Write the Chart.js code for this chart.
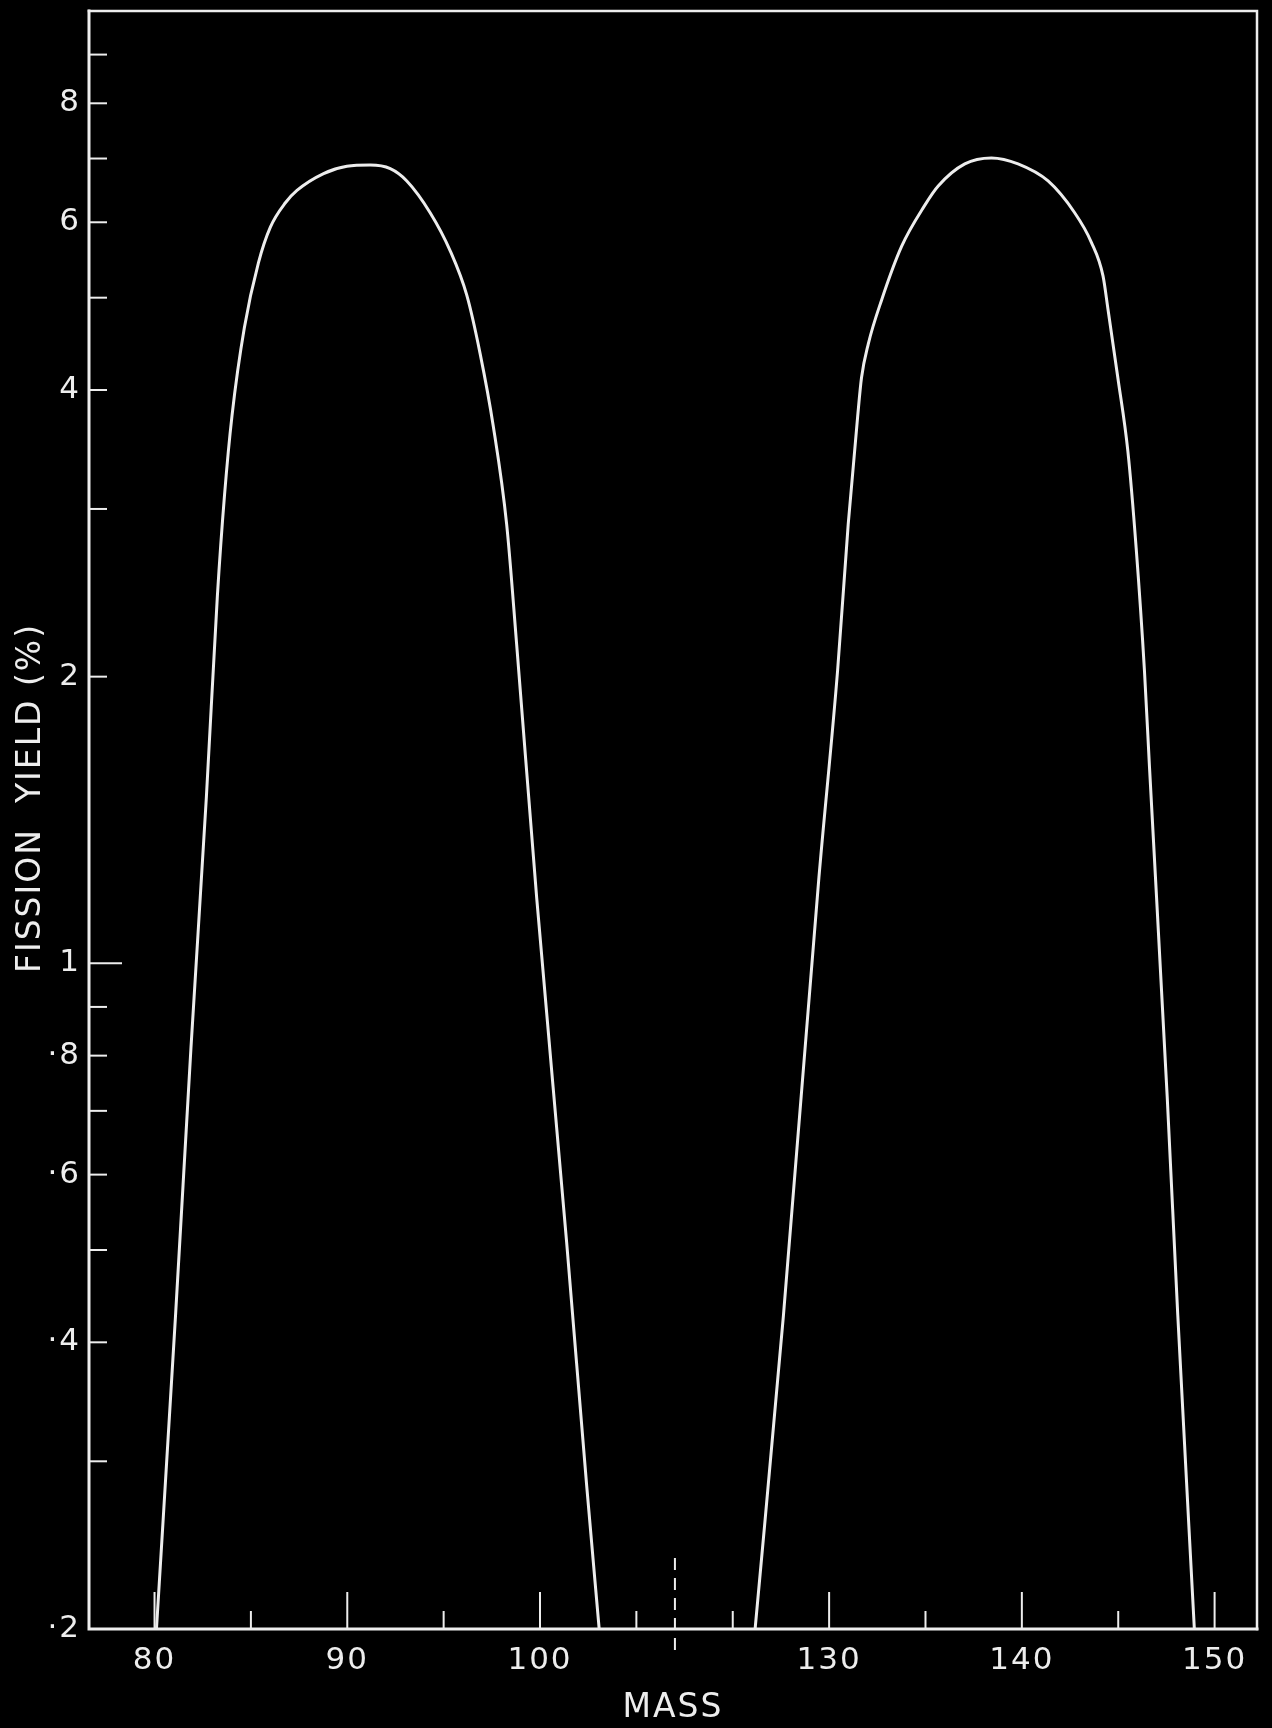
<!DOCTYPE html>
<html>
<head>
<meta charset="utf-8">
<title>Fission yield vs mass</title>
<script src="https://cdn.jsdelivr.net/npm/chart.js@4/dist/chart.umd.min.js"></script>
<style>
  html, body { margin: 0; padding: 0; background: #000; }
  canvas { display: block; }
</style>
</head>
<body>
<canvas id="chart" width="1272" height="1728"></canvas>
<script>
// Light fragment peak: mass number and fission yield (%)
const lightMass  = [80.1, 81.09, 81.89, 82.69, 83.26, 83.63, 84.02, 84.66, 85.39, 86.01, 86.79, 87.39, 88.77, 89.98, 91.19, 92.23, 93.09, 94.30, 95.34, 96.20, 96.89, 97.58, 98.27, 98.79, 99.83, 101.38, 102.42, 103.07];
const lightYield = [0.20, 0.427, 0.815, 1.495, 2.43, 3.10, 3.76, 4.65, 5.44, 5.93, 6.29, 6.48, 6.75, 6.87, 6.89, 6.83, 6.63, 6.14, 5.60, 5.03, 4.37, 3.66, 2.89, 2.16, 1.17, 0.51, 0.283, 0.20];

// Heavy fragment peak
const heavyMass  = [126.16, 127.63, 129.47, 130.44, 130.99, 131.48, 131.68, 132.03, 132.72, 133.76, 134.96, 135.66, 137.04, 138.42, 139.80, 141.36, 142.74, 143.60, 144.21, 144.47, 144.98, 145.50, 145.93, 146.36, 146.62, 147.54, 148.09, 148.95];
const heavyYield = [0.20, 0.427, 1.23, 2.03, 2.89, 3.75, 4.12, 4.47, 4.97, 5.66, 6.25, 6.55, 6.91, 7.01, 6.91, 6.63, 6.14, 5.72, 5.27, 4.86, 4.12, 3.45, 2.73, 2.03, 1.61, 0.725, 0.427, 0.20];

// Mass axis ticks (the range between the two peaks is cut out)
const xTickValues = [80, 85, 90, 95, 100, 105, 125, 130, 135, 140, 145, 150];
const xTickLabels = ['80', '', '90', '', '100', '', '', '130', '', '140', '', '150'];
const xLongTicks  = [80, 90, 100, 130, 140, 150];

// Yield axis ticks (log scale, British decimal point)
const yTickValues = [0.2, 0.3, 0.4, 0.5, 0.6, 0.7, 0.8, 0.9, 1, 2, 3, 4, 5, 6, 7, 8, 9];
const yTickLabels = ['·2', '', '·4', '', '·6', '', '·8', '', '1', '2', '', '4', '', '6', '', '8', ''];
const yLongTicks  = [1];

const xTitle = 'MASS';
const yTitle = 'FISSION  YIELD (%)';

const gapStart = 107;   // axis break: masses between gapStart and gapEnd are omitted
const gapEnd   = 122;

const INK = '#ededed';
const FONT = 'DejaVu Sans';

function squeeze(m) {
  if (m <= gapStart) return m;
  if (m >= gapEnd) return m - (gapEnd - gapStart);
  return gapStart;
}
function expand(c) {
  return c <= gapStart ? c : c + (gapEnd - gapStart);
}

// Linear scale with a cut-out section
class BrokenLinearScale extends Chart.LinearScale {
  configure() {
    super.configure();
    this._startValue = squeeze(this.min);
    this._endValue = squeeze(this.max);
    this._valueRange = this._endValue - this._startValue;
  }
  getPixelForValue(value) {
    if (value === null || value === undefined) return NaN;
    return this.getPixelForDecimal((squeeze(value) - this._startValue) / this._valueRange);
  }
  getValueForPixel(pixel) {
    return expand(this._startValue + this.getDecimalForPixel(pixel) * this._valueRange);
  }
}
BrokenLinearScale.id = 'brokenLinear';
BrokenLinearScale.defaults = Chart.LinearScale.defaults;
Chart.register(BrokenLinearScale);

// Frame, inward tick marks, the dashed break marker and the yield title
const framePlugin = {
  id: 'frame',
  beforeDraw(chart) {
    const { ctx, width, height } = chart;
    ctx.save();
    ctx.fillStyle = '#000';
    ctx.fillRect(0, 0, width, height);
    ctx.restore();
    ctx.letterSpacing = '2px';
  },
  afterDatasetsDraw(chart) {
    const { ctx, chartArea: a, scales: { x, y } } = chart;
    ctx.save();
    ctx.strokeStyle = INK;
    ctx.lineCap = 'square';

    ctx.lineWidth = 2.5;
    ctx.beginPath();
    ctx.moveTo(a.left, a.top);
    ctx.lineTo(a.right, a.top);
    ctx.lineTo(a.right, a.bottom);
    ctx.stroke();

    ctx.lineWidth = 3;
    ctx.beginPath();
    ctx.moveTo(a.left, a.top);
    ctx.lineTo(a.left, a.bottom);
    ctx.lineTo(a.right, a.bottom);
    ctx.stroke();

    ctx.lineCap = 'butt';
    ctx.lineWidth = 2;
    xTickValues.forEach(v => {
      const px = x.getPixelForValue(v);
      const len = xLongTicks.includes(v) ? 37 : 18;
      ctx.beginPath();
      ctx.moveTo(px, a.bottom);
      ctx.lineTo(px, a.bottom - len);
      ctx.stroke();
    });
    yTickValues.forEach(v => {
      if (v <= y.min) return;
      const py = y.getPixelForValue(v);
      const len = yLongTicks.includes(v) ? 33 : 18;
      ctx.beginPath();
      ctx.moveTo(a.left, py);
      ctx.lineTo(a.left + len, py);
      ctx.stroke();
    });

    const bx = x.getPixelForValue(gapStart);
    ctx.setLineDash([12, 8]);
    ctx.beginPath();
    ctx.moveTo(bx, a.bottom - 71);
    ctx.lineTo(bx, a.bottom + 26);
    ctx.stroke();
    ctx.setLineDash([]);

    // vertical axis title
    ctx.translate(31, (a.top + a.bottom) / 2 - 22);
    ctx.rotate(-Math.PI / 2);
    ctx.fillStyle = INK;
    ctx.font = '33px "' + FONT + '"';
    ctx.letterSpacing = '2px';
    ctx.textAlign = 'center';
    ctx.textBaseline = 'middle';
    ctx.fillText(yTitle, 0, 0);
    ctx.restore();
  }
};

Chart.defaults.color = INK;
Chart.defaults.font.family = FONT;

const toPoints = (ms, ys) => ms.map((m, i) => ({ x: m, y: ys[i] }));

new Chart(document.getElementById('chart'), {
  type: 'line',
  data: {
    datasets: [
      { label: 'Light fragments', data: toPoints(lightMass, lightYield) },
      { label: 'Heavy fragments', data: toPoints(heavyMass, heavyYield) }
    ]
  },
  options: {
    responsive: false,
    devicePixelRatio: 1,
    animation: false,
    layout: { padding: { top: 11, right: 15, bottom: 0, left: 0 } },
    elements: {
      line: { borderColor: INK, borderWidth: 3, cubicInterpolationMode: 'monotone', fill: false },
      point: { radius: 0, hoverRadius: 0 }
    },
    plugins: { legend: { display: false }, tooltip: { enabled: false } },
    scales: {
      x: {
        type: 'brokenLinear',
        min: 76.6,
        max: 152.2,
        bounds: 'data',
        grid: { display: false, drawTicks: false },
        border: { display: false },
        afterBuildTicks: s => { s.ticks = xTickValues.map(v => ({ value: v })); },
        afterFit: s => { s.height = 99; s.paddingLeft = 0; s.paddingRight = 0; },
        ticks: {
          autoSkip: false,
          maxRotation: 0,
          padding: 13,
          font: { size: 31 },
          color: INK,
          callback: (v, i) => xTickLabels[i]
        },
        title: {
          display: true,
          text: xTitle,
          color: INK,
          font: { size: 33 },
          padding: { top: 0, bottom: 0 }
        }
      },
      y: {
        type: 'logarithmic',
        min: 0.2,
        max: 10,
        bounds: 'data',
        grid: { display: false, drawTicks: false },
        border: { display: false },
        afterBuildTicks: s => { s.ticks = yTickValues.map(v => ({ value: v })); },
        afterFit: s => { s.width = 89; s.paddingTop = 0; s.paddingBottom = 0; },
        ticks: {
          autoSkip: false,
          padding: 8,
          font: { size: 31 },
          color: INK,
          callback: (v, i) => yTickLabels[i]
        },
        title: { display: false }
      }
    }
  },
  plugins: [framePlugin]
});
</script>
</body>
</html>
